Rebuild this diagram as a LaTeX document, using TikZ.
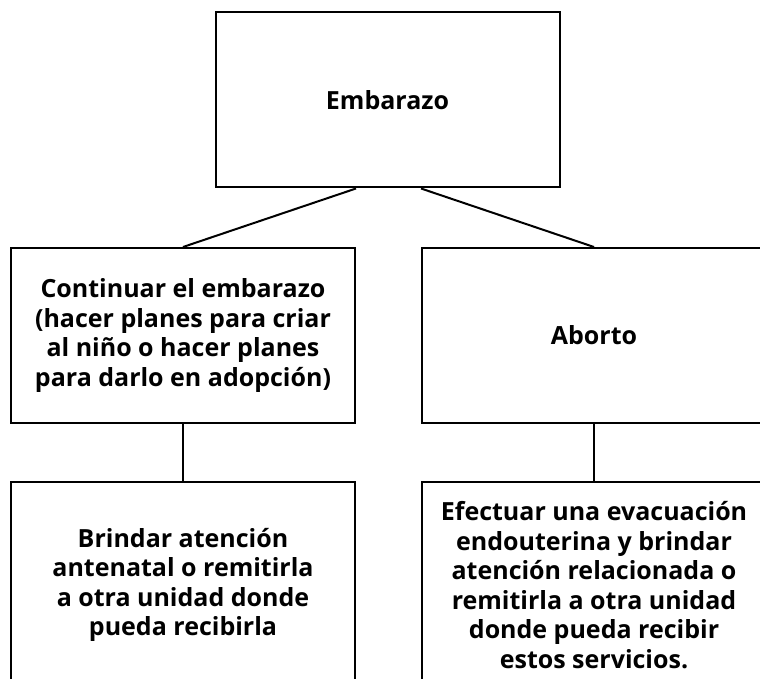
\documentclass[tikz,border=0pt]{standalone}
\usepackage{fontspec}
\setmainfont{Open Sans}
\usepackage{tikz}
\usetikzlibrary{positioning}
\tikzset{box/.style={draw, line width=2pt, rectangle, align=center,
    font=\bfseries\fontsize{25}{29.5}\selectfont,
    minimum width=344pt, inner sep=0pt}}

\begin{document}
\begin{tikzpicture}[x=1pt,y=1pt, line width=2pt]

  \useasboundingbox (0,0) rectangle (760,678);

  \newcommand\boxH{175pt};

  \node[box, minimum height=\boxH] (top) at (387.5,578) {Embarazo};

  \node[box, minimum height=\boxH] (cont) at (183,342.5)
  {Continuar el embarazo\\(hacer planes para criar\\al niño o hacer planes\\para darlo en adopción)};
  \node[box, minimum height=\boxH] (abort) at (594,342.5) {Aborto};

  \node[box, minimum height=206pt] (careL) at (183,93)
  {Brindar atención\\antenatal o remitirla\\a otra unidad donde\\pueda recibirla};
  \node[box, minimum height=206pt] (careR) at (594,93)
  {Efectuar una evacuación\\endouterina y brindar\\atención relacionada o\\remitirla a otra unidad\\donde pueda recibir\\estos servicios.};

  \draw (top.south -| cont.east) -- (cont.north); %% top -> left
  \draw (top.south -| abort.west) -- (abort.north); %% top -> right
  \draw (cont) -- (careL);
  \draw (abort) -- (careR);

\end{tikzpicture}
\end{document}
